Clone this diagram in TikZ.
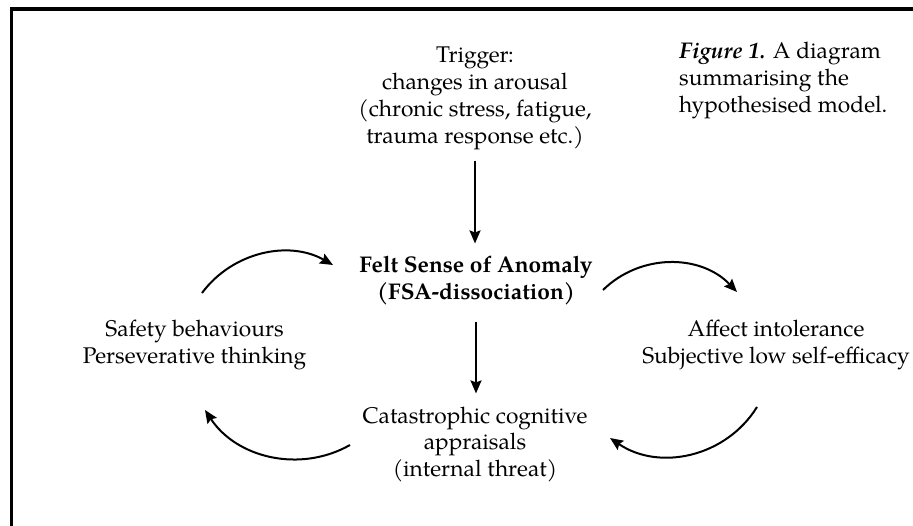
\documentclass[tikz,border=0pt]{standalone}
\usepackage{fontspec}
\setmainfont{TeX Gyre Pagella}
\usetikzlibrary{arrows.meta}
\begin{document}
\begin{tikzpicture}[x=1pt,y=-1pt,
  lbl/.style={font=\fontsize{22.7}{26.7}\selectfont, inner sep=0pt, align=center, anchor=base},
  arr/.style={line width=2pt, -{Stealth[length=13pt,width=11pt,inset=2pt]}},
  frameline/.style={line width=3.2pt}]
\useasboundingbox (0,0) rectangle (913,526);
\fill[white] (0,0) rectangle (913,526);
% frame
\coordinate (fb) at (11.7,526);
\coordinate (fc) at (11.7,9);
\coordinate (fr) at (913,9);
\draw[frameline] (fb) -- (fc) -- (fr);
% caption (anchored at the baseline of its last line)
\node[lbl, align=left, anchor=base west] (cap) at (679,112.4)
  {\textbf{\textit{Figure 1.}} A diagram\\summarising the\\hypothesised model.};
% nodes (anchored at the baseline of their last line)
\node[lbl] (trig) at (475,143.1) {Trigger:\\changes in arousal\\(chronic stress, fatigue,\\trauma response etc.)};
\node[lbl] (felt) at (476,299.7) {\textbf{Felt Sense of Anomaly}\\\textbf{(FSA-dissociation)}};
\node[lbl] (safe) at (194.5,363.5) {Safety behaviours\\Perseverative thinking};
\node[lbl] (aff) at (776,363.5) {Affect intolerance\\Subjective low self-efficacy};
\node[lbl] (cat) at (475,476.5) {Catastrophic cognitive\\appraisals\\(internal threat)};
% straight arrows
\draw[arr, shorten <=11pt, shorten >=13pt] (trig.south) -- (trig.south |- felt.north);
\draw[arr, shorten <=16pt, shorten >=13pt] (felt.south) -- (felt.south |- cat.north);
% loop arrows
\coordinate (tlA) at (202,293); \coordinate (tlB) at (333,265);
\coordinate (trA) at (603,290); \coordinate (trB) at (737,292);
\coordinate (blA) at (350,445); \coordinate (blB) at (205,410);
\coordinate (brA) at (757,407); \coordinate (brB) at (610,438);
\draw[arr] (tlA) .. controls (232.4,252) and (288.7,239.8) .. (tlB);
\draw[arr] (trA) .. controls (640.4,253.2) and (700.7,254) .. (trB);
\draw[arr] (blA) .. controls (300,473.3) and (236.6,458) .. (blB);
\draw[arr] (brA) .. controls (725.8,457.3) and (658.9,471.4) .. (brB);
\end{tikzpicture}
\end{document}
